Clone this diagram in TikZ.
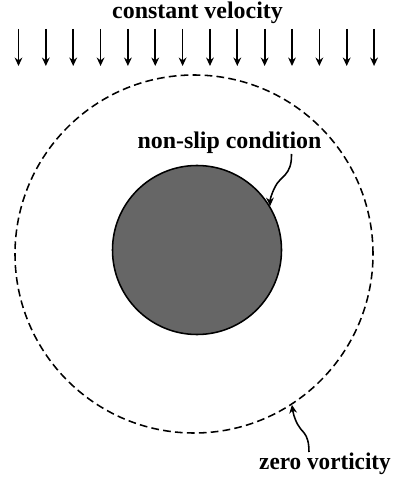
\documentclass[tikz,border=0pt]{standalone}
\usepackage{fontspec}
\setmainfont{Liberation Serif}
\usetikzlibrary{arrows.meta}
\begin{document}
\begin{tikzpicture}[x=0.25mm,y=-0.25mm,every node/.style={font=\bfseries\fontsize{17}{19}\selectfont},>={Stealth[length=6pt,width=5.5pt]}]
\useasboundingbox (0,0) rectangle (397,477);
% uniform inflow at the top
\node[anchor=base] (title) at (197.5,18.5) {constant velocity};
\foreach \i in {0,...,13} {
  \coordinate (top\i) at (18.5+27.35*\i,29);
  \coordinate (tip\i) at (18.5+27.35*\i,66);
  \draw[->,line width=1.2pt] (top\i) -- (tip\i);
}
% far-field boundary and the body
\node[draw,circle,line width=1.1pt,dash pattern=on 5.5pt off 3pt,minimum size=89.5mm,inner sep=0pt] (domain) at (194,254) {};
\node[draw,circle,fill=black!60,line width=1.1pt,minimum size=42.25mm,inner sep=0pt] (body) at (197,250) {};
% labels with curly pointers
\node[anchor=base] (noslip) at (229.5,149) {non-slip condition};
\node[anchor=base,xscale=0.97] (zerovort) at (325,469) {zero vorticity};
\coordinate (nsfoot) at (291.5,154);
\coordinate (zvhead) at (309,452);
\draw[->,line width=1.1pt] (nsfoot) .. controls (292,176) and (280,176) .. (275,187) .. controls (271,195) and (270,200) .. (body.31);
\draw[->,line width=1.1pt] (zvhead) .. controls (309,432) and (301,432) .. (298,425) .. controls (294,418) and (293,412) .. (domain.-57);
\end{tikzpicture}
\end{document}
